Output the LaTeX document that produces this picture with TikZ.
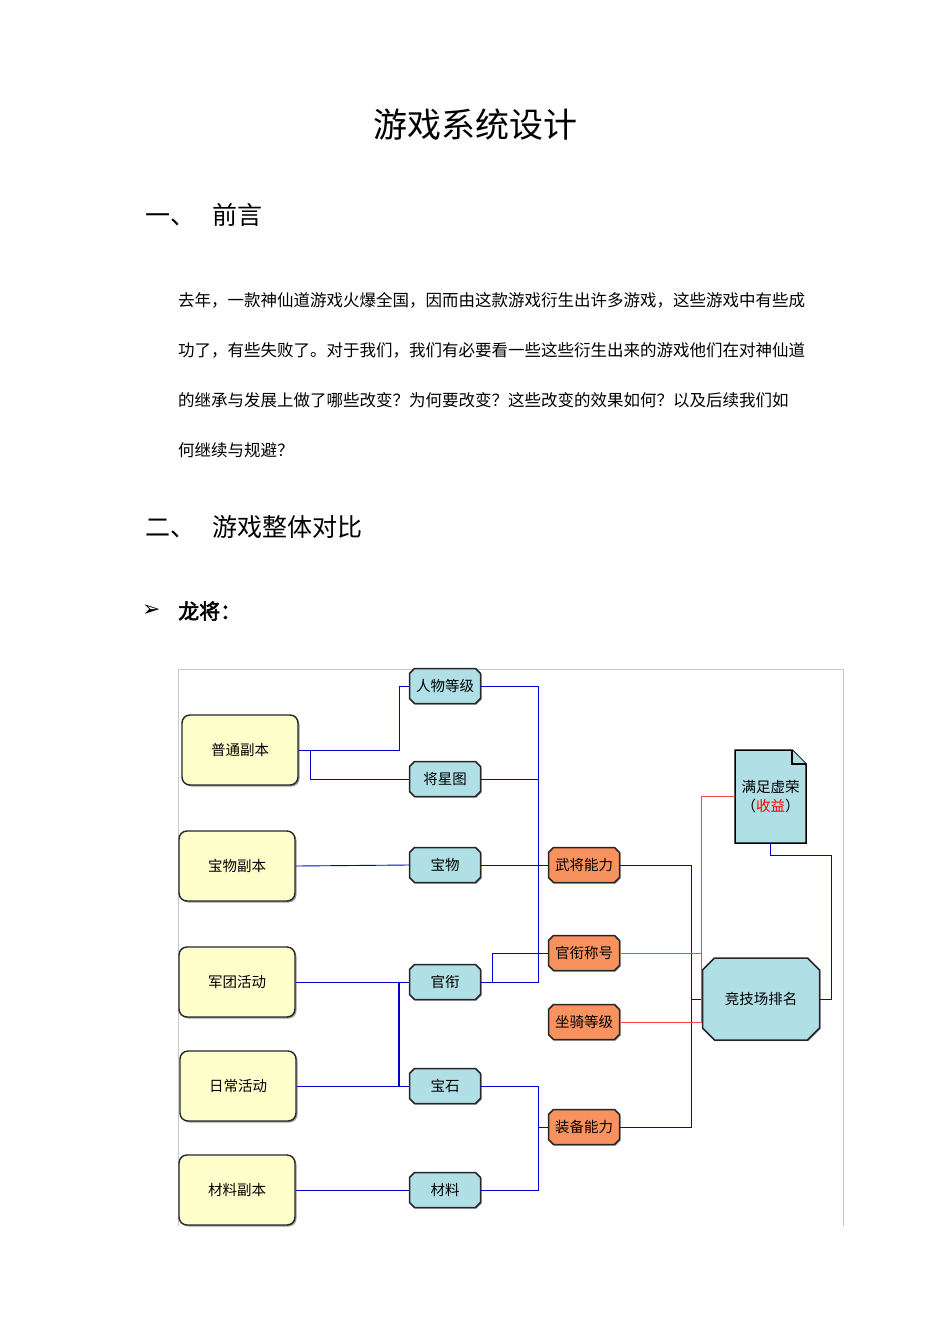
\documentclass[tikz,border=0pt]{standalone}
\usepackage{fontspec}
\setmainfont{Noto Sans CJK SC}
\newfontfamily\arrowfont{DejaVu Sans}
\newfontfamily\boldcjk[FakeBold=2.5]{Noto Sans CJK SC}
\usetikzlibrary{shapes.misc,shadows}
\definecolor{srcyellow}{HTML}{FFFFCC}
\definecolor{itemblue}{HTML}{B0E0E6}
\definecolor{abilorange}{HTML}{F8935F}
\definecolor{linkblue}{HTML}{0000CC}
\definecolor{linkred}{HTML}{F24848}
\definecolor{framegray}{HTML}{C8C8C8}
\begin{document}
\begin{tikzpicture}[x=1pt,y=-1pt,
    src/.style={draw=black!85, line width=1.4pt, fill=srcyellow, rounded corners=8pt,
      minimum width=116pt, minimum height=70pt, font=\fontsize{14.5}{16}\selectfont,
      drop shadow={shadow xshift=1.5pt, shadow yshift=-1.5pt, fill=black!40, opacity=1}},
    item/.style={draw=black!85, line width=1.5pt, fill=itemblue, chamfered rectangle,
      chamfered rectangle xsep=2.5pt, chamfered rectangle ysep=2.5pt,
      minimum width=71pt, minimum height=35pt, inner sep=1pt, font=\fontsize{14.5}{16}\selectfont,
      drop shadow={shadow xshift=1pt, shadow yshift=-1pt, fill=black!40, opacity=1}},
    abil/.style={item, fill=abilorange},
    link/.style={linkblue, line width=0.9pt},
    vain/.style={linkred, line width=0.9pt}]
  \useasboundingbox[fill=white] (0,0) rectangle (950,1344);

  % heading and text
  \node[font=\fontsize{34}{40}\selectfont] (title) at (475,125) {游戏系统设计};
  \node[anchor=west, font=\fontsize{25}{30}\selectfont, inner sep=0pt] (sec1) at (145,215) {一、\hspace{17pt}前言};
  \begin{scope}[every node/.style={anchor=west, inner sep=0pt, font=\fontsize{16.5}{20}\selectfont}]
    \node (p1) at (178,300) {去年，一款神仙道游戏火爆全国，因而由这款游戏衍生出许多游戏，这些游戏中有些成};
    \node (p2) at (178,350) {功了，有些失败了。对于我们，我们有必要看一些这些衍生出来的游戏他们在对神仙道};
    \node (p3) at (178,400) {的继承与发展上做了哪些改变？为何要改变？这些改变的效果如何？以及后续我们如};
    \node (p4) at (178,450) {何继续与规避？};
  \end{scope}
  \node[anchor=west, font=\fontsize{25}{30}\selectfont, inner sep=0pt] (sec2) at (145,527) {二、\hspace{17pt}游戏整体对比};
  \node[anchor=west, font=\arrowfont\fontsize{22}{24}\selectfont, inner sep=0pt] (bullet) at (142,611) {➢};
  \node[anchor=west, font=\boldcjk\fontsize{21}{24}\selectfont, inner sep=0pt] (lj) at (178,611) {龙将：};

  % frame
  \draw[framegray, line width=0.8pt] (178,1226) -- (178,669) -- (843,669) -- (843,1226);

  % sources
  \node[src] (pt) at (240,750) {普通副本};
  \node[src] (bw) at (237,866) {宝物副本};
  \node[src] (jt) at (237,982) {军团活动};
  \node[src] (rc) at (238,1086) {日常活动};
  \node[src] (clfb) at (237,1190) {材料副本};

  % items
  \node[item] (rw) at (445,686) {人物等级};
  \node[item] (jx) at (445,779) {将星图};
  \node[item] (bwx) at (445,865) {宝物};
  \node[item] (gx) at (445,982) {官衔};
  \node[item] (bs) at (445,1086) {宝石};
  \node[item] (cl) at (445,1190) {材料};

  % abilities
  \node[abil] (wj) at (584,865) {武将能力};
  \node[abil] (gxch) at (584,953) {官衔称号};
  \node[abil] (zq) at (584,1022) {坐骑等级};
  \node[abil] (zb) at (584,1127) {装备能力};

  \node[item, minimum width=117pt, minimum height=82pt, chamfered rectangle xsep=6pt,
    chamfered rectangle ysep=6pt] (jj) at (761,999) {竞技场排名};

  % document shape
  \draw[line width=1.5pt, fill=itemblue, line join=miter] (735,843) -- (735,750) -- (792,750) -- (806,764) -- (806,843) -- cycle;
  \draw[line width=1.2pt, fill=itemblue] (792,750) -- (792,764) -- (806,764);
  \node[align=center, minimum width=71pt, minimum height=93pt, inner sep=0pt,
    font=\fontsize{14.5}{19}\selectfont] (mz) at (770.5,796.5) {满足虚荣\\（{\color{red}收益}）};

  % bus positions
  \coordinate (xa) at (399,0);
  \coordinate (xb) at (310,0);
  \coordinate (xc) at (538,0);
  \coordinate (xd) at (492,0);
  \coordinate (xe) at (691,0);
  \coordinate (xf) at (701,0);
  \coordinate (xg) at (831,0);

  % connectors
  \draw[link] (pt.east) -- (pt.east -| xa) |- (rw.west);
  \draw[link] (pt.east -| xb) |- (jx.west);
  \draw[link] (bw.east) -- (bwx.west);
  \draw[link] (rw.east) -| (xc |- gx.east) -- (gx.east);
  \draw[link] (jx.east) -- (jx.east -| xc);
  \draw[link] (bwx.east) -- (wj.west);
  \draw[link] (gx.east -| xd) |- (gxch.west);
  \draw[link] (jt.east) -- (gx.west);
  \draw[link] (rc.east) -- (bs.west);
  \draw[link, line width=1.4pt] (gx.west -| xa) -- (bs.west -| xa);
  \draw[link] (bs.east) -| (xc |- cl.east) -- (cl.east);
  \draw[link] (xc |- zb.west) -- (zb.west);
  \draw[link] (clfb.east) -- (cl.west);
  \draw[link] (wj.east) -| (xe |- zb.east) -- (zb.east);
  \draw[link] (xe |- jj.west) -- (jj.west);
  \draw[vain] (gxch.east) -- (gxch.east -| xf);
  \draw[vain] (zq.east) -| (xf |- mz.west) -- (mz.west);
  \draw[link] (mz.south) -- ++(0,12) -| (xg |- jj.east) -- (jj.east);
\end{tikzpicture}
\end{document}
